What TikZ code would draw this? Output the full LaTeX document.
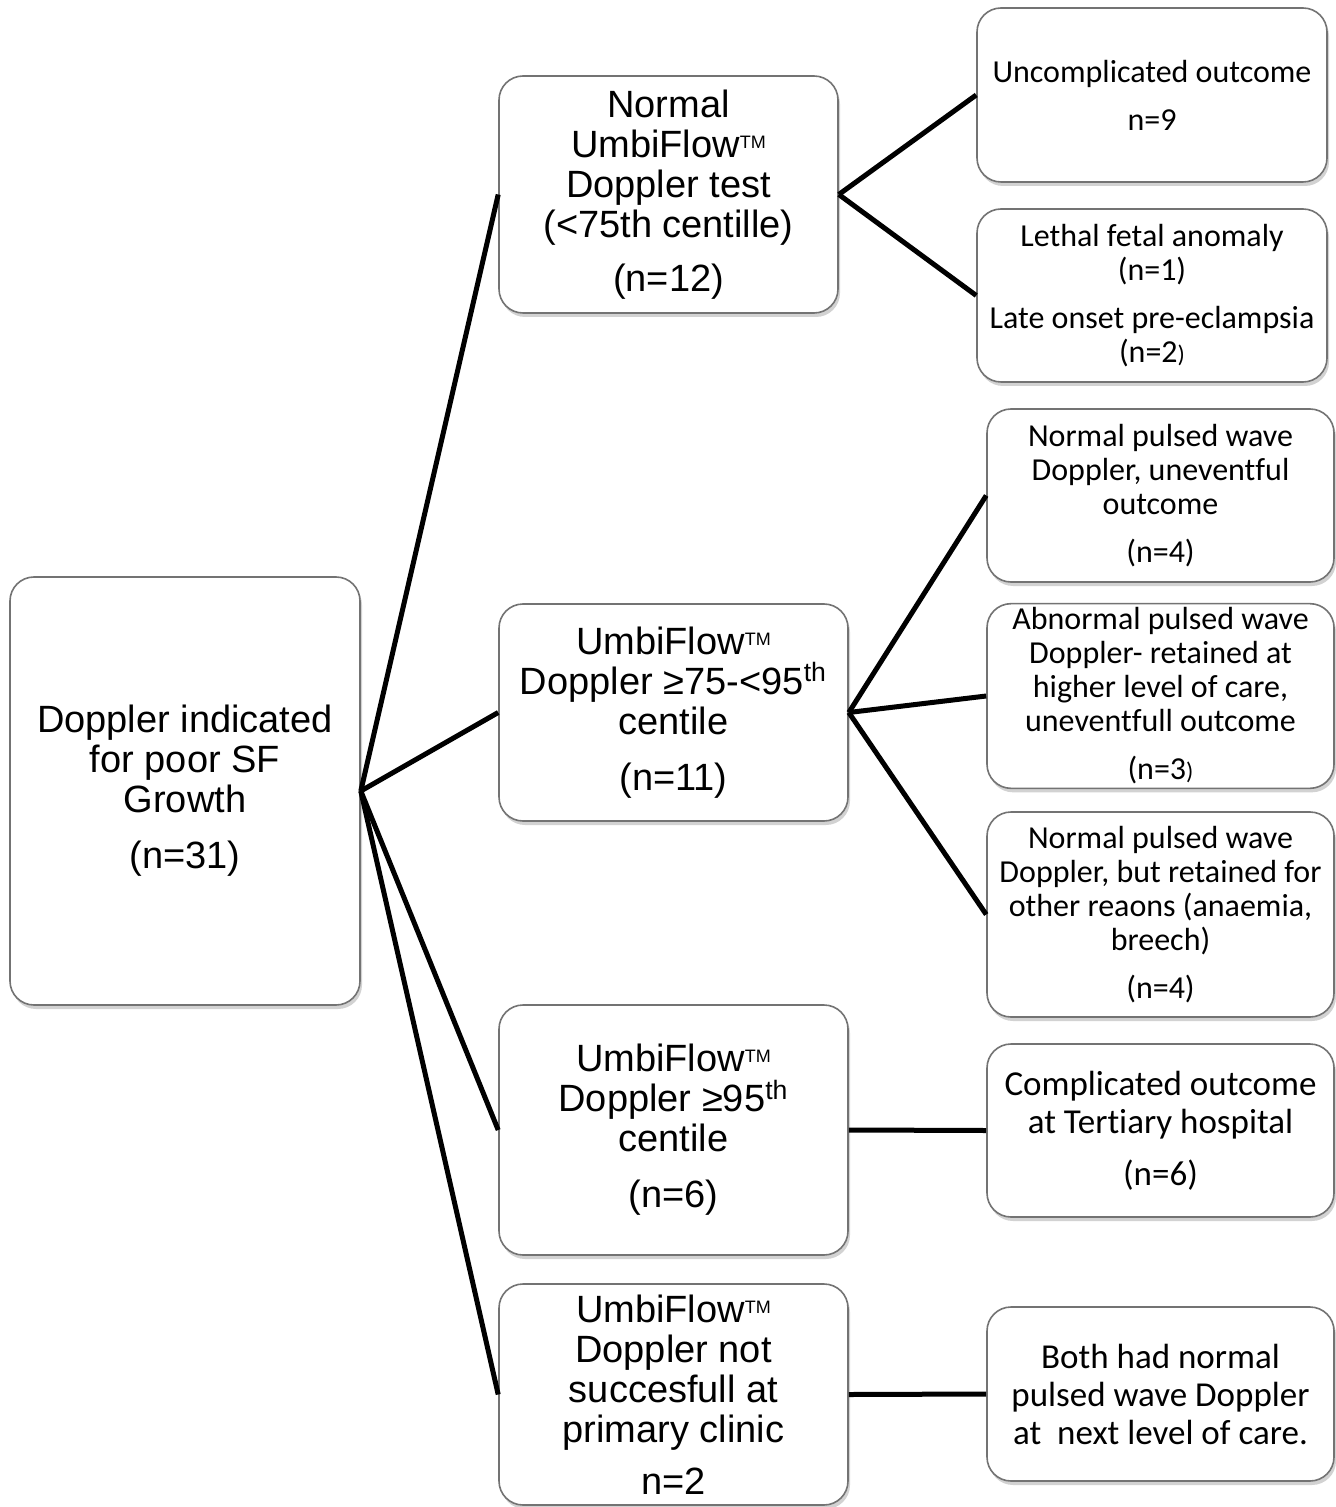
\documentclass[tikz,border=0pt]{standalone}
\usepackage{fontspec}
\setmainfont{Liberation Sans}
\newfontfamily\calfont[Ligatures=CommonOff]{Carlito}
\usetikzlibrary{shadows}
\newcommand{\tmark}{\raisebox{4.5pt}{\fontsize{9}{9}\selectfont TM}}

\begin{document}
\begin{tikzpicture}[x=0.5pt, y=-0.5pt,
        box/.style={draw=black!55, line width=0.8pt, fill=white, rounded corners=12pt, align=center, inner sep=2pt,
            drop shadow={shadow xshift=1pt, shadow yshift=-2pt, opacity=0.35}},
        arial/.style={font={\fontsize{19}{20}\selectfont}},
        calib/.style={font={\calfont\fontsize{16}{17}\selectfont}},
        calibl/.style={font={\calfont\fontsize{17.5}{19}\selectfont}},
        conn/.style={line width=2.5pt}]
        \useasboundingbox[fill=white] (0,0) rectangle (1335,1507);

        \node[box, arial, minimum width=175pt, minimum height=214pt] at (185, 791)   (root) {Doppler indicated\\for poor SF\\Growth\\[8pt](n=31)};

        \node[box, arial, minimum width=169.5pt, minimum height=118.5pt] at (668.5, 194.5)   (low) {Normal\\UmbiFlow\tmark\\Doppler test\\(<75th centille)\\[7pt](n=12)};
        \node[box, arial, minimum width=174.5pt, minimum height=108.5pt] at (673.5, 712.5)   (mid) {UmbiFlow\tmark\\Doppler ≥75-<95\textsuperscript{th}\\centile\\[8pt](n=11)};
        \node[box, arial, minimum width=174.5pt, minimum height=125pt] at (673.5, 1130)   (high) {UmbiFlow\tmark\\Doppler ≥95\textsuperscript{th}\\centile\\[8pt](n=6)};
        \node[box, arial, minimum width=174.5pt, minimum height=110.5pt] at (673.5, 1394.5)   (fail) {UmbiFlow\tmark\\Doppler not\\succesfull at\\primary clinic\\[6pt]n=2};

        \node[box, calib, minimum width=175pt, minimum height=87pt] at (1152, 95)   (low_a) {Uncomplicated outcome\\[7pt]n=9};
        \node[box, calib, minimum width=175pt, minimum height=86.5pt] at (1152, 295.5)   (low_b) {Lethal fetal anomaly\\(n=1)\\[7pt]Late onset pre-eclampsia\\(n=2{\fontsize{12}{17}\selectfont)}};
        \node[box, calib, minimum width=173.5pt, minimum height=86.5pt] at (1160.5, 495.5)   (mid_a) {Normal pulsed wave\\Doppler, uneventful\\outcome\\[7pt](n=4)};
        \node[box, calib, minimum width=173.5pt, minimum height=86pt] at (1160.5, 696)   (mid_b) {Abnormal pulsed wave\\Doppler- retained at\\higher level of care,\\uneventfull outcome\\[7pt](n=3{\fontsize{12}{17}\selectfont)}};
        \node[box, calib, minimum width=173.5pt, minimum height=102.5pt] at (1160.5, 914.5)   (mid_c) {Normal pulsed wave\\Doppler, but retained for\\other reaons (anaemia,\\breech)\\[7pt](n=4)};
        \node[box, calibl, minimum width=173.5pt, minimum height=86.5pt] at (1160.5, 1130.5)   (high_a) {Complicated outcome\\at Tertiary hospital\\[7pt](n=6)};
        \node[box, calibl, minimum width=173.5pt, minimum height=87pt] at (1160.5, 1394)   (fail_a) {Both had normal\\pulsed wave Doppler\\at\ \ next level of care.};

        \draw [conn] (root.east) -- (low.west);
        \draw [conn] (root.east) -- (mid.west);
        \draw [conn] (root.east) -- (high.west);
        \draw [conn] (root.east) -- (fail.west);

        \draw [conn] (low.east) -- (low_a.west);
        \draw [conn] (low.east) -- (low_b.west);
        \draw [conn] (mid.east) -- (mid_a.west);
        \draw [conn] (mid.east) -- (mid_b.west);
        \draw [conn] (mid.east) -- (mid_c.west);
        \draw [conn] (high.east) -- (high_a.west);
        \draw [conn] (fail.east) -- (fail_a.west);
    \end{tikzpicture}
\end{document}
